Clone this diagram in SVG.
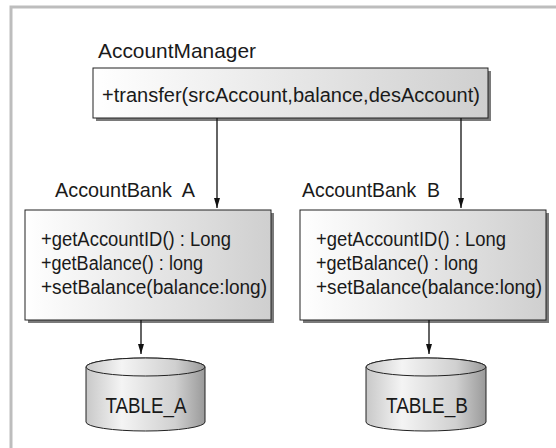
<svg xmlns="http://www.w3.org/2000/svg" width="556" height="448" viewBox="0 0 556 448">
<defs>
<linearGradient id="boxg" x1="0" y1="0" x2="1" y2="0">
<stop offset="0" stop-color="#ffffff"/>
<stop offset="1" stop-color="#cfcfcf"/>
</linearGradient>
<linearGradient id="cylg" x1="0" y1="0" x2="1" y2="0">
<stop offset="0" stop-color="#c8c8c8"/>
<stop offset="0.3" stop-color="#f4f4f4"/>
<stop offset="0.75" stop-color="#d0d0d0"/>
<stop offset="1" stop-color="#9a9a9a"/>
</linearGradient>
<marker id="arr" viewBox="0 0 10 10" refX="10" refY="5" markerWidth="10" markerHeight="10" markerUnits="userSpaceOnUse" orient="auto">
<path d="M0,2 L10,5 L0,8 Z" fill="#111"/>
</marker>
<style>
.t{font-family:"Liberation Sans",Arial,sans-serif;fill:#1a1a1a}
.title{font-size:21px}
.m{font-size:20px}
.tb{font-size:22px}
.box{fill:url(#boxg);stroke:#222;stroke-width:1}
.sh{fill:#7a7a7a}
.cyl{fill:url(#cylg);stroke:#222;stroke-width:1}
.ln{stroke:#111;stroke-width:1.3;fill:none;marker-end:url(#arr)}
</style>
</defs>
<rect x="0" y="0" width="556" height="448" fill="#fff"/>
<rect x="11" y="7" width="600" height="500" fill="none" stroke="#bdbdbd" stroke-width="3"/>

<g id="AccountManager">
<text class="t title" x="98" y="58" textLength="158" lengthAdjust="spacingAndGlyphs">AccountManager</text>
<rect class="sh" x="96" y="71" width="395" height="50"/>
<rect class="box" x="93" y="68" width="395" height="50"/>
<text class="t m" x="102" y="102" textLength="378" lengthAdjust="spacingAndGlyphs">+transfer(srcAccount,balance,desAccount)</text>
</g>

<g id="AccountBankA">
<text class="t title" x="55" y="197" textLength="140" lengthAdjust="spacingAndGlyphs" xml:space="preserve">AccountBank  A</text>
<rect class="sh" x="28" y="213" width="246" height="110"/>
<rect class="box" x="25" y="210" width="246" height="110"/>
<text class="t m" x="41" y="246" textLength="190" lengthAdjust="spacingAndGlyphs">+getAccountID() : Long</text>
<text class="t m" x="41" y="270" textLength="162" lengthAdjust="spacingAndGlyphs">+getBalance() : long</text>
<text class="t m" x="41" y="294" textLength="226" lengthAdjust="spacingAndGlyphs">+setBalance(balance:long)</text>
</g>

<g id="AccountBankB">
<text class="t title" x="302" y="197" textLength="138" lengthAdjust="spacingAndGlyphs" xml:space="preserve">AccountBank  B</text>
<rect class="sh" x="303" y="213" width="246" height="110"/>
<rect class="box" x="300" y="210" width="246" height="110"/>
<text class="t m" x="316" y="246" textLength="190" lengthAdjust="spacingAndGlyphs">+getAccountID() : Long</text>
<text class="t m" x="316" y="270" textLength="162" lengthAdjust="spacingAndGlyphs">+getBalance() : long</text>
<text class="t m" x="316" y="294" textLength="226" lengthAdjust="spacingAndGlyphs">+setBalance(balance:long)</text>
</g>

<g id="TABLE_A">
<path class="cyl" d="M86,367 L86,422 A59.5,9 0 0 0 205,422 L205,367 A59.5,9 0 0 0 86,367 Z"/>
<ellipse cx="145.5" cy="367" rx="59.5" ry="9" fill="url(#cylg)" stroke="#222" stroke-width="1"/>
<text class="t tb" x="146" y="413" text-anchor="middle" textLength="81" lengthAdjust="spacingAndGlyphs">TABLE_A</text>
</g>

<g id="TABLE_B">
<path class="cyl" d="M366,367 L366,422 A60,9 0 0 0 486,422 L486,367 A60,9 0 0 0 366,367 Z"/>
<ellipse cx="426" cy="367" rx="60" ry="9" fill="url(#cylg)" stroke="#222" stroke-width="1"/>
<text class="t tb" x="427" y="413" text-anchor="middle" textLength="82" lengthAdjust="spacingAndGlyphs">TABLE_B</text>
</g>

<g id="connectors">
<line class="ln" x1="217" y1="118" x2="217" y2="208"/>
<line class="ln" x1="461" y1="118" x2="461" y2="208"/>
<line class="ln" x1="141" y1="320" x2="141" y2="354"/>
<line class="ln" x1="429" y1="320" x2="429" y2="354"/>
</g>
</svg>
